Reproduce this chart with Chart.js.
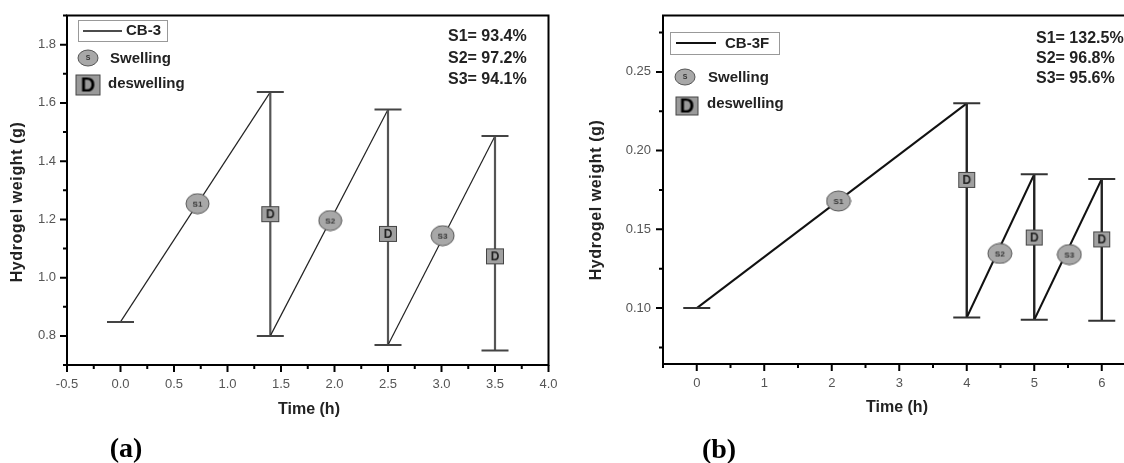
<!DOCTYPE html>
<html>
<head>
<meta charset="utf-8">
<script src="https://cdn.jsdelivr.net/npm/chart.js@4"></script>
<style>
body{margin:0;background:#fff;overflow:hidden;width:1124px;height:463px;position:relative}
#ca{position:absolute;left:0;top:0}
#cb{position:absolute;left:560px;top:0}
</style>
</head>
<body>
<canvas id="ca" width="564" height="463"></canvas>
<canvas id="cb" width="591" height="463"></canvas>
<script>
// (a) CB-3 : swelling / deswelling cycles
var timeA = [0, 1.4, 1.4, 2.5, 2.5, 3.5, 3.5];
var weightA = [0.848, 1.637, 0.800, 1.577, 0.769, 1.486, 0.750];
var swellTimeA = [0.72, 1.96, 3.01];
var swellWeightA = [1.254, 1.196, 1.144];
var swellNamesA = ['S1', 'S2', 'S3'];
var deswellTimeA = [1.4, 2.5, 3.5];
var deswellWeightA = [1.218, 1.150, 1.073];
var ratiosA = ['S1= 93.4%', 'S2= 97.2%', 'S3= 94.1%'];
var xLabelsA = ['-0.5', '0.0', '0.5', '1.0', '1.5', '2.0', '2.5', '3.0', '3.5', '4.0'];
var yLabelsA = ['0.8', '1.0', '1.2', '1.4', '1.6', '1.8'];

// (b) CB-3F
var timeB = [0, 4, 4, 5, 5, 6, 6];
var weightB = [0.100, 0.230, 0.094, 0.185, 0.0926, 0.182, 0.092];
var swellTimeB = [2.1, 4.49, 5.52];
var swellWeightB = [0.168, 0.1347, 0.134];
var swellNamesB = ['S1', 'S2', 'S3'];
var deswellTimeB = [4, 5, 6];
var deswellWeightB = [0.1814, 0.1448, 0.1436];
var ratiosB = ['S1= 132.5%', 'S2= 96.8%', 'S3= 95.6%'];
var xLabelsB = ['0', '1', '2', '3', '4', '5', '6'];
var yLabelsB = ['0.10', '0.15', '0.20', '0.25'];

var FONT = '"Liberation Sans", Arial, sans-serif';

function ellipseIcon(w, h, text, fs){
    var c = document.createElement('canvas');
    c.width = w + 2; c.height = h + 2;
    var g = c.getContext('2d');
    g.beginPath();
    g.ellipse(c.width/2, c.height/2, w/2, h/2, 0, 0, 2*Math.PI);
    g.fillStyle = '#a8a8a8'; g.fill();
    g.strokeStyle = '#555'; g.lineWidth = 1; g.stroke();
    g.fillStyle = '#333';
    g.font = 'bold ' + fs + 'px ' + FONT;
    g.textAlign = 'center'; g.textBaseline = 'middle';
    g.fillText(text, c.width/2, c.height/2 + 0.5);
    return c;
}

function squareIcon(w, h, text, fs, fill, color){
    var c = document.createElement('canvas');
    c.width = w + 2; c.height = h + 2;
    var g = c.getContext('2d');
    g.fillStyle = fill; g.fillRect(1, 1, w, h);
    g.strokeStyle = '#444'; g.lineWidth = 1; g.strokeRect(1.5, 1.5, w - 1, h - 1);
    g.fillStyle = color;
    g.font = 'bold ' + fs + 'px ' + FONT;
    g.textAlign = 'center'; g.textBaseline = 'middle';
    g.fillText(text, c.width/2, c.height/2 + 1);
    return c;
}

function pts(xs, ys){
    return xs.map(function(x, i){ return {x: x, y: ys[i]}; });
}

function labelFrom(arr){
    return function(v){
        for (var i = 0; i < arr.length; i++) {
            if (Math.abs(parseFloat(arr[i]) - v) < 1e-6) return arr[i];
        }
        return '';
    };
}

var decorPlugin = {
    id: 'decor',
    afterDraw: function(chart, args, o){
        var ctx = chart.ctx, area = chart.chartArea;
        var xs = chart.scales.x, ys = chart.scales.y;
        ctx.save();
        ctx.strokeStyle = '#000';
        ctx.lineWidth = 2;
        ctx.strokeRect(area.left, area.top, area.right - area.left, area.bottom - area.top);
        ctx.beginPath();
        xs.ticks.forEach(function(t){
            var p = xs.getPixelForValue(t.value);
            ctx.moveTo(p, area.bottom);
            ctx.lineTo(p, area.bottom + (t.label ? 7 : 4));
        });
        ys.ticks.forEach(function(t){
            var p = ys.getPixelForValue(t.value);
            ctx.moveTo(area.left, p);
            ctx.lineTo(area.left - (t.label ? 7 : 4), p);
        });
        ctx.stroke();

        // axis titles
        ctx.fillStyle = '#222';
        ctx.font = 'bold 16px ' + FONT;
        ctx.textAlign = 'center'; ctx.textBaseline = 'middle';
        ctx.fillText('Time (h)', o.xTitle[0], o.xTitle[1]);
        ctx.save();
        ctx.translate(o.yTitle[0], o.yTitle[1]);
        ctx.rotate(-Math.PI/2);
        ctx.letterSpacing = '0.6px';
        ctx.fillText('Hydrogel weight (g)', 0, 0);
        ctx.restore();

        // legend
        var L = o.legend;
        ctx.strokeStyle = '#999'; ctx.lineWidth = 1;
        ctx.strokeRect(L.box[0] + 0.5, L.box[1] + 0.5, L.box[2], L.box[3]);
        ctx.strokeStyle = '#111'; ctx.lineWidth = L.lineW;
        ctx.beginPath();
        ctx.moveTo(L.line[0], L.line[2]); ctx.lineTo(L.line[1], L.line[2]);
        ctx.stroke();
        ctx.textAlign = 'left';
        ctx.font = 'bold 15px ' + FONT;
        ctx.fillText(L.name, L.nameXY[0], L.nameXY[1]);
        var e = ellipseIcon(20, 16, 'S', 7);
        ctx.drawImage(e, L.swell[0] - e.width/2, L.swell[1] - e.height/2);
        ctx.fillText('Swelling', L.swellText[0], L.swellText[1]);
        var s = squareIcon(L.sq[2], L.sq[3], 'D', 20, '#9a9a9a', '#000');
        ctx.drawImage(s, L.sq[0] - s.width/2, L.sq[1] - s.height/2);
        ctx.fillText('deswelling', L.sqText[0], L.sqText[1]);

        // swelling ratios
        ctx.font = 'bold 16px ' + FONT;
        o.ratios.forEach(function(r, i){
            ctx.fillText(r, o.ratioX, o.ratioY[i]);
        });

        // panel tag
        ctx.font = 'bold 28px "Liberation Serif", "Times New Roman", serif';
        ctx.textAlign = 'center';
        ctx.fillStyle = '#000';
        ctx.fillText(o.tag[0], o.tag[1], o.tag[2]);
        ctx.restore();
    }
};

function makeChart(id, p){
    var vert = function(c){ return c.p0.parsed.x === c.p1.parsed.x; };
    return new Chart(document.getElementById(id), {
        type: 'line',
        data: {
            datasets: [
                {
                    data: pts(p.swellT, p.swellW),
                    showLine: false,
                    pointStyle: p.swellNames.map(function(n){ return ellipseIcon(p.ell[0], p.ell[1], n, 8); }),
                    pointRadius: 10,
                    order: 0
                },
                {
                    data: pts(p.desT, p.desW),
                    showLine: false,
                    pointStyle: p.desT.map(function(){ return squareIcon(p.dsq[0], p.dsq[1], 'D', 12, '#a0a0a0', '#222'); }),
                    pointRadius: 9,
                    order: 0
                },
                {
                    data: pts(p.t, p.w),
                    borderColor: p.diagColor,
                    borderWidth: p.diagW,
                    tension: 0,
                    pointStyle: 'line',
                    pointRadius: p.cap,
                    pointHoverRadius: p.cap,
                    pointBorderWidth: 2,
                    pointBorderColor: p.capColor,
                    segment: {
                        borderColor: function(c){ return vert(c) ? p.vertColor : p.diagColor; },
                        borderWidth: function(c){ return vert(c) ? p.vertW : p.diagW; }
                    },
                    order: 1
                }
            ]
        },
        options: {
            responsive: false,
            animation: false,
            events: [],
            layout: {padding: {top: p.padTop, right: p.padRight, left: 0, bottom: 0}},
            scales: {
                x: {
                    type: 'linear',
                    min: p.xMin, max: p.xMax,
                    grid: {display: false},
                    border: {display: false},
                    afterFit: function(s){ s.height = p.xH; },
                    ticks: {
                        stepSize: p.xStep,
                        autoSkip: false, maxRotation: 0,
                        padding: 4,
                        color: '#555',
                        font: {family: FONT, size: 13},
                        callback: labelFrom(p.xLabels)
                    }
                },
                y: {
                    type: 'linear',
                    min: p.yMin, max: p.yMax,
                    grid: {display: false},
                    border: {display: false},
                    afterFit: function(s){ s.width = p.yW; },
                    ticks: {
                        stepSize: p.yStep,
                        includeBounds: false,
                        autoSkip: false,
                        padding: p.yPad,
                        color: '#555',
                        font: {family: FONT, size: 13},
                        callback: labelFrom(p.yLabels)
                    }
                }
            },
            plugins: {
                legend: {display: false},
                tooltip: {enabled: false},
                decor: p.decor
            }
        },
        plugins: [decorPlugin]
    });
}

makeChart('ca', {
    t: timeA, w: weightA,
    swellT: swellTimeA, swellW: swellWeightA, swellNames: swellNamesA,
    desT: deswellTimeA, desW: deswellWeightA,
    xLabels: xLabelsA, yLabels: yLabelsA,
    xMin: -0.5, xMax: 4.0, xStep: 0.25,
    yMin: 0.7, yMax: 1.9, yStep: 0.1,
    xH: 98, yW: 67, yPad: 3, padRight: 4, padTop: 10,
    cap: 13.5, capColor: '#444',
    diagColor: '#222', diagW: 1.2, vertColor: '#555', vertW: 2.2,
    ell: [23, 20], dsq: [18, 16],
    decor: {
        xTitle: [309, 410],
        yTitle: [18, 202],
        legend: {
            box: [78, 20, 89, 21], line: [83, 122, 31], lineW: 1.3,
            name: 'CB-3', nameXY: [126, 31],
            swell: [88, 58], swellText: [110, 59],
            sq: [88, 85, 25, 21], sqText: [108, 84]
        },
        ratios: ratiosA, ratioX: 448, ratioY: [37, 59, 80],
        tag: ['(a)', 126, 450]
    }
});

makeChart('cb', {
    t: timeB, w: weightB,
    swellT: swellTimeB, swellW: swellWeightB, swellNames: swellNamesB,
    desT: deswellTimeB, desW: deswellWeightB,
    xLabels: xLabelsB, yLabels: yLabelsB,
    xMin: -0.5, xMax: 6.5, xStep: 0.5,
    yMin: 0.0645, yMax: 0.2858, yStep: 0.025,
    xH: 99, yW: 103, yPad: 4, padRight: 6, padTop: 10,
    cap: 13.5, capColor: '#333',
    diagColor: '#111', diagW: 2, vertColor: '#222', vertW: 2.4,
    ell: [24, 20], dsq: [17, 16],
    decor: {
        xTitle: [337, 408],
        yTitle: [37, 200],
        legend: {
            box: [110, 32, 109, 22], line: [116, 156, 43], lineW: 2,
            name: 'CB-3F', nameXY: [165, 44],
            swell: [125, 77], swellText: [148, 78],
            sq: [127, 106, 23, 19], sqText: [147, 104]
        },
        ratios: ratiosB, ratioX: 476, ratioY: [39, 59, 79],
        tag: ['(b)', 159, 451]
    }
});
</script>
</body>
</html>
